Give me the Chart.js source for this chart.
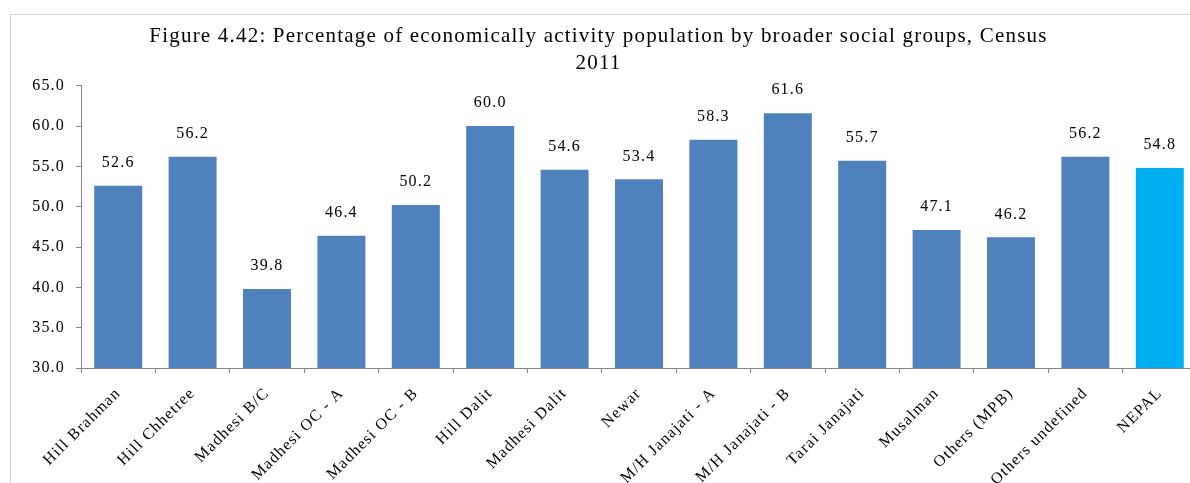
<!DOCTYPE html>
<html>
<head>
<meta charset="utf-8">
<script src="https://cdn.jsdelivr.net/npm/chart.js@4/dist/chart.umd.min.js"></script>
<style>
  html, body { margin: 0; padding: 0; background: #fff; overflow: hidden; }
  #wrap { position: relative; width: 1190px; height: 483px; overflow: hidden; }
  #frame { position: absolute; left: 10px; top: 14px; width: 1300px; height: 600px; border: 1px solid #d4d4d4; box-sizing: border-box; }
  #box { position: absolute; left: 0; top: 0; width: 1208px; height: 483px; }
</style>
</head>
<body>
<div id="wrap">
  <div id="frame"></div>
  <div id="box"><canvas id="chart"></canvas></div>
</div>
<script>
// Data
const groups = [
  'Hill Brahman', 'Hill Chhetree', 'Madhesi B/C', 'Madhesi OC - A', 'Madhesi OC - B',
  'Hill Dalit', 'Madhesi Dalit', 'Newar', 'M/H Janajati - A', 'M/H Janajati - B',
  'Tarai Janajati', 'Musalman', 'Others (MPB)', 'Others undefined', 'NEPAL'
];
const activePct = [52.6, 56.2, 39.8, 46.4, 50.2, 60.0, 54.6, 53.4, 58.3, 61.6, 55.7, 47.1, 46.2, 56.2, 54.8];
const yTicks = [30, 35, 40, 45, 50, 55, 60, 65];

const titleLines = [
  'Figure 4.42: Percentage of economically activity population by broader social groups, Census',
  '2011'
];

const SERIF = "'Liberation Serif', 'Times New Roman', serif";
const barColors = groups.map(g => g === 'NEPAL' ? '#00b0f0' : '#4f81bd');

// the original text is set a little loose, widen it a bit
const looseText = {
  id: 'looseText',
  beforeUpdate(chart) { chart.ctx.letterSpacing = '1.2px'; },
  beforeLayout(chart) { chart.ctx.letterSpacing = '1.2px'; },
  beforeDraw(chart) { chart.ctx.letterSpacing = '1.2px'; },
};

// Value labels above each bar
const valueLabels = {
  id: 'valueLabels',
  afterDatasetsDraw(chart) {
    const ctx = chart.ctx;
    const meta = chart.getDatasetMeta(0);
    ctx.save();
    ctx.font = "16px " + SERIF;
    ctx.fillStyle = '#000';
    ctx.textAlign = 'center';
    ctx.textBaseline = 'middle';
    meta.data.forEach((bar, i) => {
      ctx.fillText(activePct[i].toFixed(1), bar.x, bar.y - 23);
    });
    ctx.restore();
  }
};

new Chart(document.getElementById('chart').getContext('2d'), {
  type: 'bar',
  data: {
    labels: groups,
    datasets: [{
      data: activePct,
      backgroundColor: barColors,
      borderWidth: 0,
      categoryPercentage: 1,
      barPercentage: 0.645,
    }],
  },
  options: {
    responsive: true,
    maintainAspectRatio: false,
    animation: false,
    layout: { padding: { left: 0, right: 11, top: 10, bottom: 0 } },
    plugins: {
      legend: { display: false },
      tooltip: { enabled: false },
      title: {
        display: true,
        text: titleLines,
        color: '#000',
        font: { family: SERIF, size: 21, weight: 'normal', lineHeight: 1.28 },
        padding: { top: 13, bottom: 9 },
      },
    },
    scales: {
      x: {
        grid: { display: true, drawOnChartArea: false, drawTicks: true, tickLength: 5, color: '#868686', offset: true },
        border: { display: true, color: '#868686', width: 1 },
        ticks: {
          color: '#000',
          font: { family: SERIF, size: 16 },
          minRotation: 45,
          maxRotation: 45,
          autoSkip: false,
          padding: 11,
        },
        afterFit: s => { s.height = 115; },
      },
      y: {
        min: 30,
        max: 65,
        afterBuildTicks: s => { s.ticks = yTicks.map(v => ({ value: v })); },
        grid: { display: true, drawOnChartArea: false, drawTicks: true, tickLength: 5, color: '#868686' },
        border: { display: true, color: '#868686', width: 1 },
        ticks: {
          color: '#000',
          font: { family: SERIF, size: 16 },
          padding: 11,
          callback: v => Number(v).toFixed(1),
        },
        afterFit: s => { s.width = 81; },
      },
    },
  },
  plugins: [looseText, valueLabels],
});
</script>
</body>
</html>
